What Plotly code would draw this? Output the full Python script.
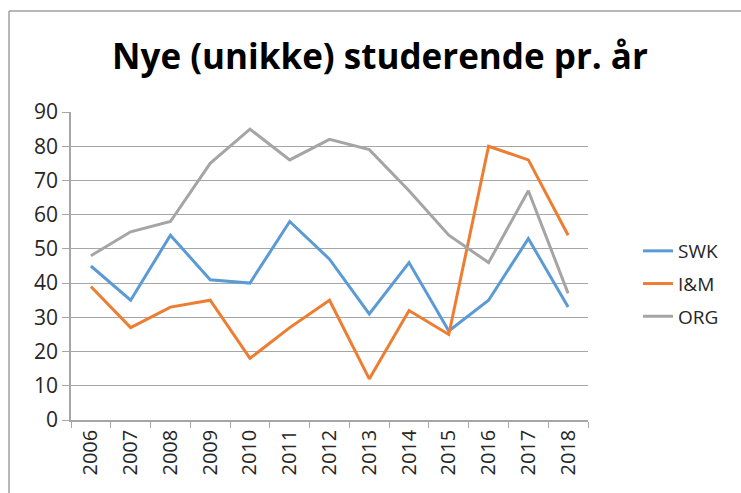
import plotly.graph_objects as go

years = ["2006", "2007", "2008", "2009", "2010", "2011", "2012", "2013", "2014", "2015", "2016", "2017", "2018"]
swk = [45, 35, 54, 41, 40, 58, 47, 31, 46, 26, 35, 53, 33]
im = [39, 27, 33, 35, 18, 27, 35, 12, 32, 25, 80, 76, 54]
org = [48, 55, 58, 75, 85, 76, 82, 79, 67, 54, 46, 67, 37]
series_names = ["SWK", "I&M", "ORG"]
colors = ["#5B9BD5", "#ED7D31", "#A5A5A5"]
y_ticks = [0, 10, 20, 30, 40, 50, 60, 70, 80, 90]

W, H = 741, 493
L, R, T, B = 71, 588, 112, 420

fig = go.Figure()
for i, (name, vals) in enumerate(zip(series_names, [swk, im, org])):
    fig.add_trace(go.Scatter(x=years, y=vals, mode="lines", name=name,
                             line=dict(color=colors[i], width=3),
                             legendgroup=name))

fnt = "Open Sans, Liberation Sans, sans-serif"
fig.update_layout(
    width=W, height=H, autosize=False,
    margin=dict(l=L, r=W - R, t=T, b=H - B, pad=0),
    paper_bgcolor="white", plot_bgcolor="white",
    title=dict(text="<b>Nye (unikke) studerende pr. år</b>", x=380 / W, xanchor="center",
               y=1 - 57 / H, yanchor="middle", yref="container",
               font=dict(family=fnt, size=35, color="black")),
    font=dict(family=fnt, size=19, color="#404040"),
    xaxis=dict(type="category", tickson="boundaries", ticks="outside", ticklen=6,
               tickcolor="#A6A6A6", showline=True, linecolor="#A6A6A6", linewidth=1.5,
               showgrid=False, tickangle=-90, tickfont=dict(size=20, color="#262626"),
               range=[-0.5, len(years) - 0.5]),
    yaxis=dict(range=[0, 90], tickvals=y_ticks, ticks="outside", ticklen=7,
               tickcolor="#A6A6A6", showline=True, linecolor="#A6A6A6", linewidth=1.5,
               showgrid=True, gridcolor="#A6A6A6", gridwidth=1.2, zeroline=False,
               tickfont=dict(size=21, color="#262626")),
    legend=dict(x=(638 - L) / (R - L), xanchor="left", y=(B - 232) / (B - T), yanchor="top",
                font=dict(size=19, color="#262626"), tracegroupgap=5,
                bgcolor="rgba(0,0,0,0)"),
    showlegend=True,
)
# chart border (top and left edges visible)
fig.add_shape(type="line", xref="paper", yref="paper",
              x0=(9 - L) / (R - L), x1=(W - L) / (R - L),
              y0=(B - 11) / (B - T), y1=(B - 11) / (B - T),
              line=dict(color="#A0A0A0", width=1.5))
fig.add_shape(type="line", xref="paper", yref="paper",
              x0=(9 - L) / (R - L), x1=(9 - L) / (R - L),
              y0=(B - 11) / (B - T), y1=(B - H) / (B - T),
              line=dict(color="#A0A0A0", width=1.5))

fig.write_html("out.html",
               config={"displayModeBar": False},
               post_script="document.body.style.margin='0';"
                           "document.documentElement.style.overflow='hidden';"
                           "document.body.style.overflow='hidden';")
